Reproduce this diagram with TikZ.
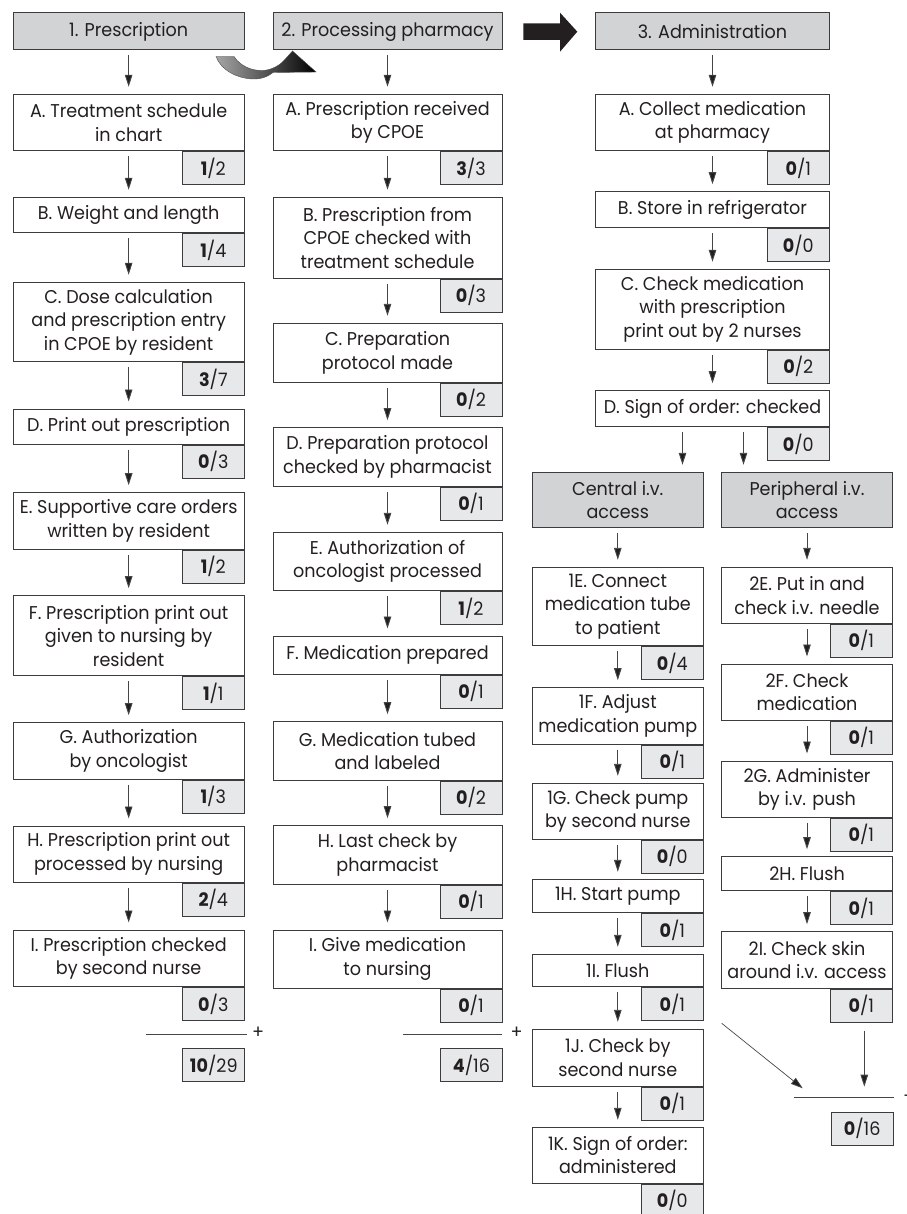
\documentclass[tikz,border=0pt]{standalone}
\usepackage{fontspec}
\setmainfont{Poppins}[FakeStretch=0.95]
\usetikzlibrary{arrows.meta,shadings,calc}
\definecolor{headgray}{RGB}{209,211,212}
\definecolor{scgray}{RGB}{231,232,233}
\definecolor{bordc}{RGB}{60,60,62}
\definecolor{txtc}{RGB}{35,31,32}
\definecolor{linec}{RGB}{70,70,72}
\newcommand\Bx[7][bxs]{%
  \pgfmathsetmacro\bxw{#5-#3}\pgfmathsetmacro\bxh{#6-#4}%
  \node[#1, minimum width=\bxw pt, minimum height=\bxh pt] (#2) at ({(#3+#5)/2},{(#4+#6)/2}) {#7};}
\newcommand\Sc[4]{\node[scbox, anchor=north east] (#1) at (#2.south east) {\textbf{#3}/#4};}
\begin{document}
\begin{tikzpicture}[x=1pt,y=-1pt,
  every node/.style={font=\fontsize{18.5}{23.5}\selectfont, text=txtc},
  bxs/.style={draw=bordc, line width=1pt, fill=white, align=center, inner xsep=2pt, inner ysep=0pt},
  hdr/.style={bxs, fill=headgray},
  scbox/.style={draw=bordc, line width=1pt, fill=scgray, minimum width=62pt, minimum height=33pt, inner sep=0pt},
  arr/.style={draw=linec, line width=0.9pt, -{Triangle[length=12pt,width=7.5pt,fill=txtc]}, shorten <=5pt, shorten >=7pt},
  sumline/.style={draw=linec, line width=1pt}]
\useasboundingbox (0,0) rectangle (906,1214);
% ---------- column 1
\Bx[hdr]{P1}{13}{13}{244.3}{50}{1. Prescription}
\Bx{a1}{13}{94.3}{244.3}{150.7}{A. Treatment schedule\\in chart}\Sc{sa1}{a1}{1}{2}
\Bx{b1}{13}{197.3}{244.3}{232.7}{B. Weight and length}\Sc{sb1}{b1}{1}{4}
\Bx{c1}{13}{282.3}{244.3}{361.7}{C. Dose calculation\\and prescription entry\\in CPOE by resident}\Sc{sc1}{c1}{3}{7}
\Bx{d1}{13}{409}{244.3}{444.3}{D. Print out prescription}\Sc{sd1}{d1}{0}{3}
\Bx{e1}{13}{492.7}{244.3}{549.3}{E. Supportive care orders\\written by resident}\Sc{se1}{e1}{1}{2}
\Bx{f1}{13}{595.7}{244.3}{675.7}{F. Prescription print out\\given to nursing by\\resident}\Sc{sf1}{f1}{1}{1}
\Bx{g1}{13}{722.7}{244.3}{779}{G. Authorization\\by oncologist}\Sc{sg1}{g1}{1}{3}
\Bx{h1}{13}{826}{244.3}{882.3}{H. Prescription print out\\processed by nursing}\Sc{sh1}{h1}{2}{4}
\Bx{i1}{13}{930}{244.3}{986.7}{I. Prescription checked\\by second nurse}\Sc{si1}{i1}{0}{3}
\foreach \u/\v in {P1/a1,a1/b1,b1/c1,c1/d1,d1/e1,e1/f1,f1/g1,g1/h1,h1/i1} \draw[arr] (\u) -- (\v);
\coordinate (l1a) at (146,1034); \coordinate (l1b) at (246.7,1034);
\draw[sumline] (l1a) -- (l1b);
\node[inner sep=0pt] (plus1) at (258,1033) {+};
\node[scbox, anchor=north west] (t1) at (182.3,1048.3) {\textbf{10}/29};
% ---------- column 2
\Bx[hdr]{P2}{273}{13}{502}{50}{2. Processing pharmacy}
\Bx{a2}{273}{94.3}{502}{150.7}{A. Prescription received\\by CPOE}\Sc{sa2}{a2}{3}{3}
\Bx{b2}{273}{197.3}{502}{278.3}{B. Prescription from\\CPOE checked with\\treatment schedule}\Sc{sb2}{b2}{0}{3}
\Bx{c2}{273}{323.3}{502}{382.3}{C. Preparation\\protocol made}\Sc{sc2}{c2}{0}{2}
\Bx{d2}{273}{427.7}{502}{486}{D. Preparation protocol\\checked by pharmacist}\Sc{sd2}{d2}{0}{1}
\Bx{e2}{273}{532.3}{502}{590.7}{E. Authorization of\\oncologist processed}\Sc{se2}{e2}{1}{2}
\Bx{f2}{273}{636}{502}{674}{F. Medication prepared}\Sc{sf2}{f2}{0}{1}
\Bx{g2}{273}{721.7}{502}{780}{G. Medication tubed\\and labeled}\Sc{sg2}{g2}{0}{2}
\Bx{h2}{273}{825.7}{502}{884}{H. Last check by\\pharmacist}\Sc{sh2}{h2}{0}{1}
\Bx{i2}{273}{930}{502}{988.3}{I. Give medication\\to nursing}\Sc{si2}{i2}{0}{1}
\foreach \u/\v in {P2/a2,a2/b2,b2/c2,c2/d2,d2/e2,e2/f2,f2/g2,g2/h2,h2/i2} \draw[arr] (\u) -- (\v);
\coordinate (l2a) at (402.7,1034); \coordinate (l2b) at (501.7,1034);
\draw[sumline] (l2a) -- (l2b);
\node[inner sep=0pt] (plus2) at (516.7,1033) {+};
\node[scbox, anchor=north west] (t2) at (440,1048.3) {\textbf{4}/16};
% ---------- column 3
\Bx[hdr]{P3}{595.7}{13}{829.3}{50}{3. Administration}
\Bx{a3}{595.7}{94.3}{829.3}{150.7}{A. Collect medication\\at pharmacy}\Sc{sa3}{a3}{0}{1}
\Bx{b3}{595.7}{191.7}{829.3}{227.7}{B. Store in refrigerator}\Sc{sb3}{b3}{0}{0}
\Bx{c3}{595.7}{269.3}{829.3}{349.3}{C. Check medication\\with prescription\\print out by 2 nurses}\Sc{sc3}{c3}{0}{2}
\Bx{d3}{595.7}{390.7}{829.3}{426.7}{D. Sign of order: checked}\Sc{sd3}{d3}{0}{0}
\foreach \u/\v in {P3/a3,a3/b3,b3/c3,c3/d3} \draw[arr] (\u) -- (\v);
\Bx[hdr]{cen}{532.3}{472.3}{703.3}{527.3}{Central i.v.\\access}
\Bx[hdr]{per}{721.7}{472.3}{892.3}{527.3}{Peripheral i.v.\\access}
\draw[arr] ([xshift=-30pt]d3.south) -- ([xshift=-30pt]d3.south |- cen.north);
\draw[arr] ([xshift=31pt]d3.south) -- ([xshift=31pt]d3.south |- per.north);
% central branch
\Bx{e1c}{532.3}{567.3}{703.3}{645.7}{1E. Connect\\medication tube\\to patient}\Sc{se1c}{e1c}{0}{4}
\Bx{f1c}{532.3}{687.7}{703.3}{744}{1F. Adjust\\medication pump}\Sc{sf1c}{f1c}{0}{1}
\Bx{g1c}{532.3}{783.3}{703.3}{839.3}{1G. Check pump\\by second nurse}\Sc{sg1c}{g1c}{0}{0}
\Bx{h1c}{532.3}{879.3}{703.3}{912.7}{1H. Start pump}\Sc{sh1c}{h1c}{0}{1}
\Bx{i1c}{532.3}{954.3}{703.3}{986.7}{1I. Flush}\Sc{si1c}{i1c}{0}{1}
\Bx{j1c}{532.3}{1029.3}{703.3}{1086}{1J. Check by\\second nurse}\Sc{sj1c}{j1c}{0}{1}
\Bx{k1c}{532.3}{1127.3}{703.3}{1183}{1K. Sign of order:\\administered}\Sc{sk1c}{k1c}{0}{0}
\foreach \u/\v in {cen/e1c,e1c/f1c,f1c/g1c,g1c/h1c,h1c/i1c,i1c/j1c,j1c/k1c} \draw[arr] (\u) -- (\v);
% peripheral branch
\Bx{e2p}{721.7}{567.3}{892.3}{623.3}{2E. Put in and\\check i.v. needle}\Sc{se2p}{e2p}{0}{1}
\Bx{f2p}{721.7}{664}{892.3}{720}{2F. Check\\medication}\Sc{sf2p}{f2p}{0}{1}
\Bx{g2p}{721.7}{761}{892.3}{817.3}{2G. Administer\\by i.v. push}\Sc{sg2p}{g2p}{0}{1}
\Bx{h2p}{721.7}{856.7}{892.3}{890.7}{2H. Flush}\Sc{sh2p}{h2p}{0}{1}
\Bx{i2p}{721.7}{931.7}{892.3}{988.3}{2I. Check skin\\around i.v. access}\Sc{si2p}{i2p}{0}{1}
\foreach \u/\v in {per/e2p,e2p/f2p,f2p/g2p,g2p/h2p,h2p/i2p} \draw[arr] (\u) -- (\v);
% totals column 3
\coordinate (dg1) at (721.7,1023.3); \coordinate (dg2) at (802.7,1088.3);
\coordinate (vt1) at (864.3,1030.7); \coordinate (vt2) at (864.3,1086.7);
\draw[arr, line width=0.7pt, shorten <=0pt, shorten >=0pt] (dg1) -- (dg2);
\draw[arr, shorten <=0pt, shorten >=0pt] (vt1) -- (vt2);
\coordinate (l3a) at (794,1097.7); \coordinate (l3b) at (894,1097.7);
\draw[sumline] (l3a) -- (l3b);
\node[inner sep=0pt] (plus3) at (909,1096.7) {+};
\node[scbox, anchor=north west] (t3) at (830.7,1111.7) {\textbf{0}/16};
% ---------- big block arrow between 2 and 3
\fill[txtc] (523.3,23.3) -- (560,23.3) -- (560,12.7) -- (577.3,31.7) -- (560,51.7) -- (560,40) -- (523.3,40) -- cycle;
% ---------- curved arrow between 1 and 2
\shade[left color=black!35, right color=black, draw=black!70, line width=0.4pt]
  (216,56.5) -- (234,56.5)
  .. controls (240,66) and (252,71) .. (263,70.5)
  .. controls (271,70) and (279,66) .. (284,60.5)
  -- (292.5,51) -- (316,72) -- (273,72.5) -- (278,67.5)
  .. controls (271,76) and (262,79.5) .. (252,79)
  .. controls (236,78) and (221,70) .. (216,56.5) -- cycle;
\end{tikzpicture}
\end{document}
